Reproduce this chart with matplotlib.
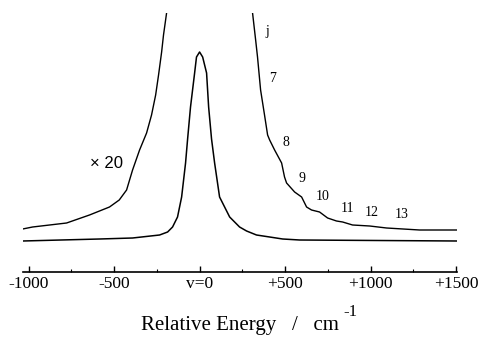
import matplotlib
matplotlib.use("Agg")
import matplotlib.pyplot as plt
from matplotlib.ticker import MultipleLocator

plt.rcParams['font.family'] = ['Liberation Serif', 'DejaVu Serif']

# origin band (v=0), relative energy in cm-1, intensity in arb. units
main_x = [-1035, -585, -392, -234, -187, -158, -129, -105, -82, -70, -53, -29, -18,
          0, 18, 41, 53, 70, 88, 117, 176, 234, 275, 333, 410, 486, 585, 1506]
main_y = [0, 2, 3, 6, 9, 14, 24, 44, 78, 102, 134, 168, 184,
          189, 184, 168, 134, 102, 78, 44, 24, 14, 10, 6, 4, 2, 1, 0]

# same spectrum magnified x20 (low-energy and high-energy wings)
x20_left_x = [-1035, -977, -778, -644, -527, -470, -427, -392, -351, -310,
              -281, -257, -240, -222, -211, -193]
x20_left_y = [12, 14, 18, 26, 34, 41, 51, 71, 91, 108, 126, 146, 166, 189, 206, 228]

x20_right_x = [310, 328, 339, 357, 380, 398, 410, 439, 480, 497, 509, 556, 597,
               626, 655, 702, 749, 801, 837, 895, 995, 1094, 1287, 1506]
x20_right_y = [228, 201, 184, 151, 126, 106, 101, 91, 78, 64, 58, 49, 44,
               34, 31, 29, 23, 20, 19, 16, 15, 13, 11, 11]

# progression labels j = 7..13
j_labels = ['j', '7', '8', '9', '10', '11', '12', '13']
j_x = [398, 427, 503, 597, 720, 866, 1006, 1182]
j_y = [209, 162, 99, 63, 45, 32, 28, 26]

tick_pos = [-1000, -500, 0, 500, 1000, 1500]
tick_lbl = ['-1000', '-500', 'v=0', '+500', '+1000', '+1500']

fig = plt.figure(figsize=(4.83, 3.39), dpi=100)
ax = fig.add_axes([23 / 483, 67 / 339, 434 / 483, 259 / 339])

ax.plot(main_x, main_y, color='black', lw=1.1)
ax.plot(x20_left_x, x20_left_y, color='black', lw=1.0)
ax.plot(x20_right_x, x20_right_y, color='black', lw=1.0)

for s, x, y in zip(j_labels, j_x, j_y):
    ax.text(x, y, s, ha='center', va='center', fontsize=10)
ax.text(-544, 78, '× 20', ha='center', va='center', fontsize=12,
        family=['Liberation Sans', 'DejaVu Sans'])

ax.set_xlim(-1033, 1506)
ax.set_ylim(-31, 228)

for side in ['top', 'left', 'right']:
    ax.spines[side].set_visible(False)
ax.spines['bottom'].set_linewidth(1.2)
ax.set_yticks([])
ax.set_xticks(tick_pos)
ax.set_xticklabels(tick_lbl, fontsize=12.5)
ax.xaxis.set_minor_locator(MultipleLocator(250))
ax.tick_params(axis='x', which='major', direction='in', length=4.5, width=1, pad=3)
ax.tick_params(axis='x', which='minor', direction='in', length=2.2, width=0.8)

# axis title, with the unit exponent set as its own raised text
ax.set_xlabel('Relative Energy   /   cm', fontsize=15, labelpad=17)
fig.text(343 / 483, 1 - 312 / 339, '-1', fontsize=12, ha='left', va='center')

fig.savefig('out.png', dpi=100)
